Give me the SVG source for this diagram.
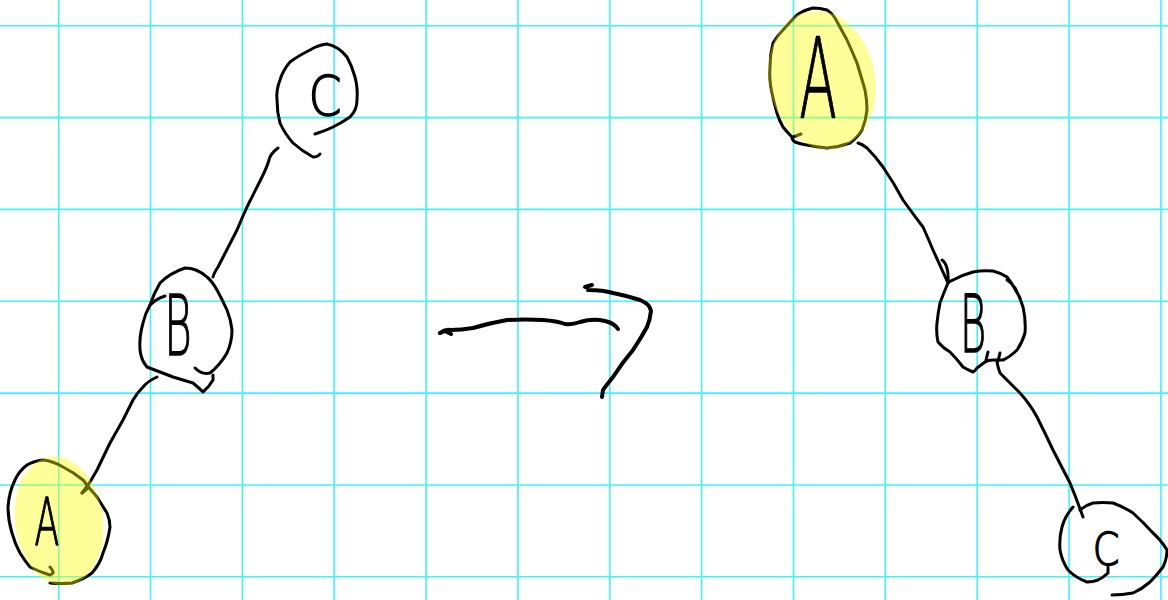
<svg xmlns="http://www.w3.org/2000/svg" width="1168" height="600" viewBox="0 0 1168 600">
<style>
.grid line{stroke:#3ef4f4;stroke-width:1.6}
.ink{fill:none;stroke:#000;stroke-width:3;stroke-linecap:round;stroke-linejoin:round}
.arrow{fill:none;stroke:#000;stroke-width:4;stroke-linecap:round;stroke-linejoin:round}
.hl{fill:#ffff00;opacity:0.4}
.lbl{font-family:"DejaVu Sans","Liberation Sans",sans-serif;font-weight:200;fill:#000;stroke:#000;stroke-width:1.4;stroke-linejoin:round;text-anchor:middle}
</style>
<rect width="1168" height="600" fill="#fff"/>
<g class="grid">
<line x1="58.7" y1="0" x2="58.7" y2="600"/><line x1="150.5" y1="0" x2="150.5" y2="600"/><line x1="242.4" y1="0" x2="242.4" y2="600"/><line x1="334.2" y1="0" x2="334.2" y2="600"/><line x1="426.1" y1="0" x2="426.1" y2="600"/><line x1="517.9" y1="0" x2="517.9" y2="600"/><line x1="609.8" y1="0" x2="609.8" y2="600"/><line x1="701.6" y1="0" x2="701.6" y2="600"/><line x1="793.5" y1="0" x2="793.5" y2="600"/><line x1="885.3" y1="0" x2="885.3" y2="600"/><line x1="977.2" y1="0" x2="977.2" y2="600"/><line x1="1069" y1="0" x2="1069" y2="600"/><line x1="1160.9" y1="0" x2="1160.9" y2="600"/>
<line x1="0" y1="25.7" x2="1168" y2="25.7"/><line x1="0" y1="117.6" x2="1168" y2="117.6"/><line x1="0" y1="209.4" x2="1168" y2="209.4"/><line x1="0" y1="301.3" x2="1168" y2="301.3"/><line x1="0" y1="393.1" x2="1168" y2="393.1"/><line x1="0" y1="485" x2="1168" y2="485"/><line x1="0" y1="576.8" x2="1168" y2="576.8"/>
</g>
<g id="connectors">
<path class="ink" d="M278,148 Q270,154 269,160 Q267,167 262,177 L247,207 Q242,218 237,230 L218,267 Q214,273 213,277"/>
<path class="ink" d="M157,377 Q148,381 143,387 Q137,393 133,400 L123,420 L110,443 L97,470 L90,482 L82,493"/>
<path class="ink" stroke-width="5" d="M82,493 L88,488"/>
<path class="ink" d="M858,143 Q862,144 867,148 Q875,156 883,167 Q894,183 903,200 Q913,214 923,227 Q928,238 933,250 L948,283"/>
<path class="ink" d="M942,260 Q949,265 948,283"/>
<path class="ink" d="M997,362 Q998,368 1000,373 Q1010,383 1020,393 Q1030,404 1037,417 Q1045,433 1053,450 L1070,483 Q1077,500 1083,517"/>
<path class="arrow" d="M440,333 Q445,329 450,330 Q462,330 473,328 Q490,323 507,320 Q525,319 543,320 Q557,321 565,324 Q572,325 580,322 Q593,318 605,321 Q614,323 618,329"/>
<path class="arrow" d="M440,333 L445,331 L451,334"/>
<path class="arrow" d="M585,287 L592,285 M588,290 Q603,290 613,293 Q628,296 640,300 Q650,304 651,311 Q650,320 647,327 Q641,338 633,350 Q622,363 613,377 Q605,387 603,390 L602,397"/>
</g>
<g id="node-c-left">
<path class="ink" d="M315,134 Q325,131 333,127 Q343,122 350,117 Q357,110 357,100 Q358,88 355,77 Q352,66 347,57 Q338,46 327,44 Q318,45 310,50 Q298,56 290,62 Q283,70 280,80 Q276,90 277,100 Q277,112 280,123 Q285,134 293,143 Q302,151 313,157 Q318,157 320,154"/>
<text class="lbl" transform="translate(325,115) scale(0.85,1)" font-size="56">C</text>
</g>
<g id="node-b-left">
<path class="ink" d="M195,368 Q202,375 210,373 Q220,365 227,353 Q232,342 232,330 Q231,320 227,310 Q222,299 217,290 Q212,281 207,277 Q197,268 185,268 Q170,273 160,283 Q154,293 150,305 Q145,314 143,323 Q139,337 140,350 Q141,360 147,367 Q160,372 173,377 Q183,380 193,383 Q199,388 203,392 Q209,387 213,380 L213,375"/>
<path class="ink" d="M150,305 Q156,299 165,296"/>
<text class="lbl" transform="translate(178,355) scale(0.5,1)" font-size="84">B</text>
</g>
<g id="node-a-left">
<path class="ink" d="M50,583 Q61,584 72,583 Q84,579 92,573 Q100,564 103,553 Q108,541 110,527 Q110,520 107,513 Q102,505 97,497 Q90,489 83,480 Q73,472 63,467 Q53,461 43,460 Q34,461 27,465 Q19,471 15,480 Q9,492 8,507 Q8,520 12,533 Q15,544 20,553 Q25,561 30,567 Q40,572 50,575 Q54,573 53,572 Q52,569 50,567"/>
<ellipse class="hl" cx="59" cy="521" rx="44" ry="65" transform="rotate(-8 59 521)"/>
<text class="lbl" transform="translate(47,545) scale(0.55,1)" font-size="66">A</text>
</g>
<g id="node-a-right">
<path class="ink" d="M795,142 Q792,140 792,137 Q787,132 783,127 Q779,120 777,113 Q774,103 772,93 Q769,80 770,67 Q770,55 773,43 Q777,36 783,30 Q790,22 797,15 Q804,10 813,8 Q820,8 827,10 Q832,13 835,18 Q841,29 847,40 Q852,51 857,63 Q861,76 865,90 Q867,100 867,110 Q866,120 862,130 Q857,138 850,143 Q839,147 827,148 Q817,147 807,145 Q800,144 795,142 M793,137 L801,134"/>
<ellipse class="hl" cx="822" cy="80" rx="53" ry="70" transform="rotate(-12 822 80)"/>
<text class="lbl" transform="translate(818,117) scale(0.5,1)" font-size="110">A</text>
</g>
<g id="node-b-right">
<path class="ink" d="M1007,280 Q1012,283 1015,288 Q1020,297 1023,307 Q1026,320 1025,333 Q1022,343 1017,350 Q1010,357 1003,360 Q998,360 993,360 Q988,360 985,362 Q981,365 977,368 Q975,371 973,372 Q968,370 963,367 Q957,359 950,352 Q943,348 938,342 Q936,333 937,323 Q938,313 940,303 Q944,292 948,283 Q950,281 953,280 Q962,275 973,272 Q983,270 993,271 Q1001,273 1007,277 Q1014,286 1020,298"/>
<path class="ink" d="M988,352 L986,360 M1000,353 L998,361"/>
<text class="lbl" transform="translate(973,352) scale(0.5,1)" font-size="80">B</text>
</g>
<g id="node-c-right">
<path class="ink" d="M1080,510 Q1086,505 1093,503 Q1103,502 1113,503 Q1124,507 1133,513 Q1143,522 1153,533 Q1161,540 1167,550 Q1167,559 1163,567 Q1157,575 1150,582 Q1142,589 1133,593 Q1122,595 1112,595"/>
<path class="ink" d="M1073,507 Q1065,516 1062,527 Q1059,538 1060,550 Q1062,561 1068,570 Q1076,578 1087,582 Q1093,582 1098,580 Q1104,577 1108,573 L1108,567"/>
<text class="lbl" transform="translate(1106,565) scale(0.85,1)" font-size="45">C</text>
</g>
</svg>
